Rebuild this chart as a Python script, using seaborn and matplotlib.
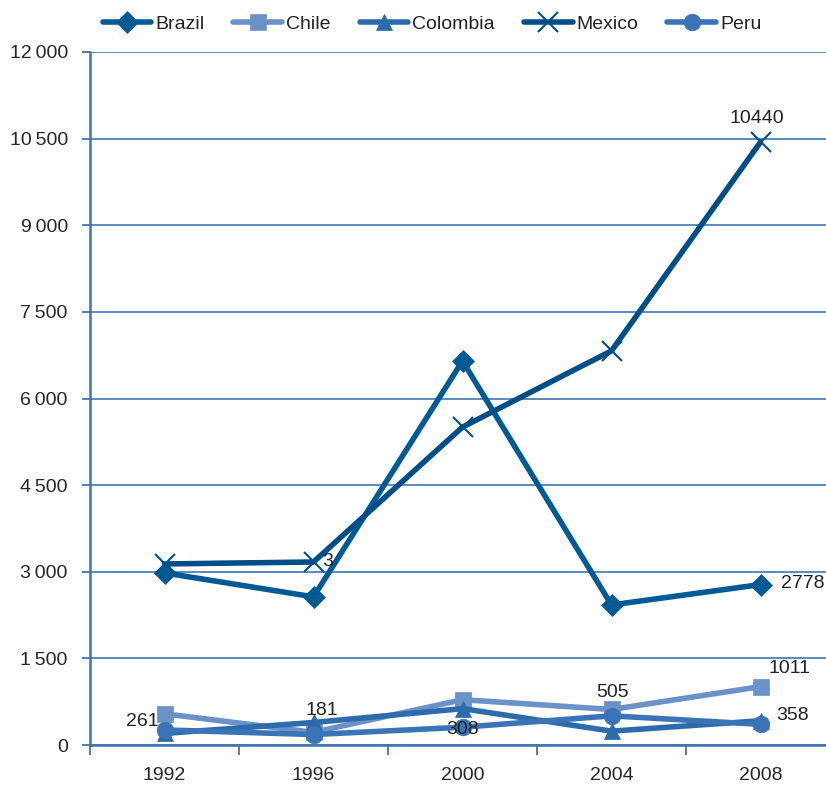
import matplotlib
matplotlib.use("Agg")
import matplotlib.pyplot as plt
from matplotlib.ticker import FuncFormatter, FixedLocator
import seaborn as sns
import pandas as pd

years = ["1992", "1996", "2000", "2004", "2008"]
brazil = [2980, 2565, 6650, 2425, 2778]
chile = [540, 220, 785, 615, 1011]
colombia = [200, 390, 630, 240, 420]
mexico = [3135, 3169, 5505, 6825, 10440]
peru = [261, 181, 308, 505, 358]

series = ["Brazil", "Chile", "Colombia", "Mexico", "Peru"]
values = [brazil, chile, colombia, mexico, peru]
colors = ["#005A94", "#6B91C9", "#2C6CAA", "#004E88", "#3B74B6"]
markers = ["D", "s", "^", "x", "o"]
msizes = [11, 11, 11, 14, 12]

sns.set_theme(style="white")
plt.rcParams["font.family"] = ["Liberation Sans", "DejaVu Sans"]
plt.rcParams["text.color"] = "#222222"

fig = plt.figure(figsize=(8.26, 7.87), dpi=100)
ax = fig.add_axes([90 / 826, 42 / 787, 745 / 826, 693 / 787])

grid_col = "#3F74B0"
for name, vals, col, mk, ms in zip(series, values, colors, markers, msizes):
    df = pd.DataFrame({"x": range(len(years)), "y": vals})
    sns.lineplot(data=df, x="x", y="y", ax=ax, color=col, linewidth=4.0,
                 marker=mk, markersize=ms, markeredgecolor=col,
                 markeredgewidth=1.5 if mk == "x" else 0.5,
                 label=name, legend=False, clip_on=False)

ax.set_xlim(-0.5, 4.5)
ax.set_ylim(0, 12000)
ax.set_xlabel("")
ax.set_ylabel("")

# y axis with thin-spaced thousands
yt = list(range(0, 12001, 1500))
ax.yaxis.set_major_locator(FixedLocator(yt))
ax.yaxis.set_major_formatter(FuncFormatter(lambda v, p: f"{int(v):,}".replace(",", "\u2009")))
ax.grid(axis="y", color=grid_col, linewidth=1.2)
ax.grid(axis="x", visible=False)

fs = 14

# category ticks between years, labels at centers
ax.xaxis.set_major_locator(FixedLocator([i - 0.5 for i in range(len(years) + 1)]))
ax.xaxis.set_major_formatter(FuncFormatter(lambda v, p: ""))
ax.set_xticks(range(len(years)), labels=years, minor=True)
ax.tick_params(axis="x", which="major", direction="out", length=7, width=1.3,
               color=grid_col, bottom=True)
ax.tick_params(axis="x", which="minor", length=0, pad=16, labelsize=fs)
ax.tick_params(axis="y", direction="out", length=6, width=1.3, color=grid_col,
               left=True, pad=10, labelsize=fs)

for s in ["top", "right"]:
    ax.spines[s].set_visible(False)
ax.spines["left"].set_color(grid_col)
ax.spines["left"].set_linewidth(1.8)
ax.spines["bottom"].set_color(grid_col)
ax.spines["bottom"].set_linewidth(1.8)

def lab(text, x, y, dx, dy, ha="center"):
    ax.annotate(text, (x, y), xytext=(dx, dy), textcoords="offset points",
                ha=ha, va="center", fontsize=fs, annotation_clip=False)

lab(str(mexico[4]), 4, mexico[4], -3, 17)
lab(str(brazil[4]), 4, brazil[4], 14.5, 0.5, ha="left")
lab("3", 1, mexico[1], 6.5, 0, ha="left")
lab(str(chile[4]), 4, chile[4], 21, 13)
lab(str(peru[0]), 0, peru[0], -4, 6, ha="right")
lab(str(peru[1]), 1, peru[1], 6, 17)
lab(str(peru[2]), 2, peru[2], 0, -1.5)
lab(str(peru[3]), 3, peru[3], 0.7, 17)
lab(str(peru[4]), 4, peru[4], 11.5, 6, ha="left")

handles, labels = ax.get_legend_handles_labels()
fig.legend(handles, labels, loc="center", bbox_to_anchor=(432 / 826, 1 - 24 / 787),
           ncol=5, frameon=False, fontsize=fs, handlelength=2.5,
           handletextpad=0.2, columnspacing=1.5)

fig.savefig("out.png", dpi=100)
